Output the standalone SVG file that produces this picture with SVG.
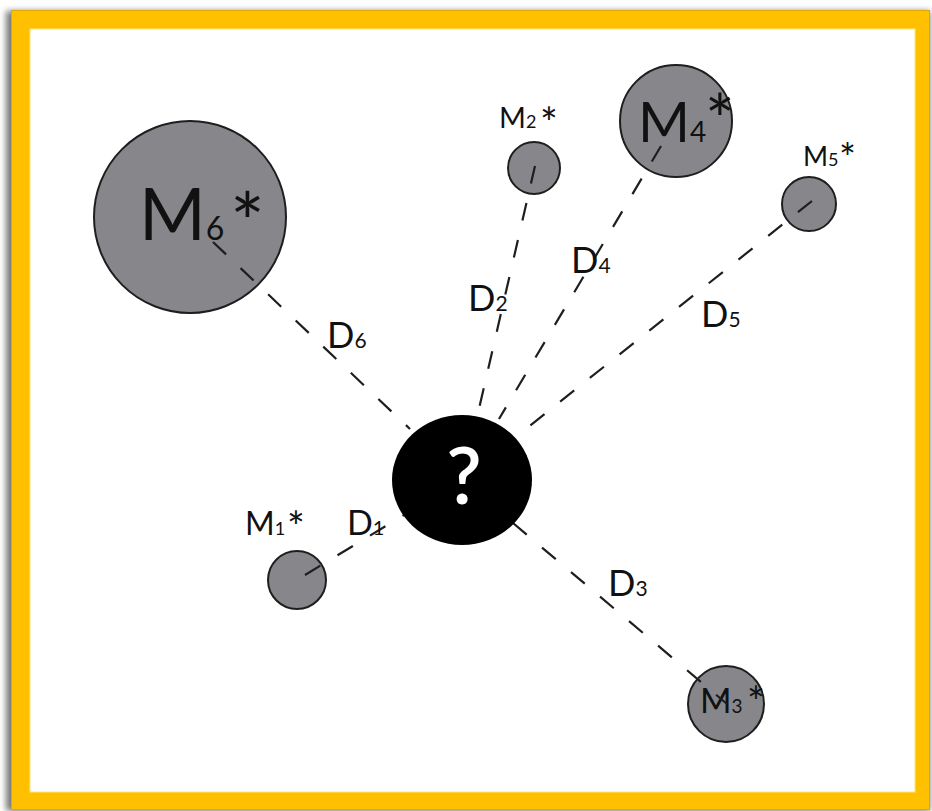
<svg xmlns="http://www.w3.org/2000/svg" width="932" height="811" viewBox="0 0 932 811">
<defs>
<filter id="sh" x="-5%" y="-5%" width="110%" height="110%"><feGaussianBlur stdDeviation="3"/></filter>
<style>
.sat{fill:#87878b;stroke:#1e1e1e;stroke-width:2}
.lbl{font-family:Lato,"Open Sans","Liberation Sans",sans-serif;fill:#111}
.con{stroke:#1e1e1e;stroke-width:2.2;stroke-dasharray:18 20;fill:none}
</style>
</defs>
<rect x="6" y="11" width="924" height="800" fill="#777" filter="url(#sh)"/>
<rect x="11" y="10" width="919" height="800" fill="#FFC000"/>
<rect x="11.5" y="10.5" width="918" height="799" fill="none" stroke="#e0a800" stroke-width="1"/>
<rect x="30" y="29" width="885" height="763" fill="#fff" stroke="#ffe680" stroke-width="1"/>

<g id="M6"><circle class="sat" cx="190" cy="217" r="96"/>
<text class="lbl" x="139" y="240"><tspan font-size="72">M</tspan><tspan font-size="32">6</tspan><tspan font-size="82" x="230" y="252">*</tspan></text></g>
<g id="M2"><circle class="sat" cx="534" cy="168" r="26"/>
<text class="lbl" x="499" y="128"><tspan font-size="29">M</tspan><tspan font-size="18">2</tspan><tspan font-size="42" x="540" y="138">*</tspan></text></g>
<g id="M4"><circle class="sat" cx="676" cy="121" r="56"/>
<text class="lbl" x="638" y="142"><tspan font-size="56">M</tspan><tspan font-size="28">4</tspan><tspan font-size="70" x="705" y="145">*</tspan></text></g>
<g id="M5"><circle class="sat" cx="809" cy="204" r="27"/>
<text class="lbl" x="803" y="166"><tspan font-size="27">M</tspan><tspan font-size="18">5</tspan><tspan font-size="40" x="839" y="173">*</tspan></text></g>
<g id="M1"><circle class="sat" cx="297" cy="580" r="29"/>
<text class="lbl" x="245" y="535"><tspan font-size="32">M</tspan><tspan font-size="18">1</tspan><tspan font-size="42" x="287" y="542">*</tspan></text></g>
<g id="M3"><circle class="sat" cx="726" cy="704" r="38"/>
<text class="lbl" x="700" y="713"><tspan font-size="34">M</tspan><tspan font-size="19">3</tspan><tspan font-size="42" x="747" y="717">*</tspan></text></g>

<g id="connectors">
<line class="con" x1="213" y1="242" x2="410" y2="429"/>
<line class="con" x1="535" y1="166" x2="478" y2="413"/>
<line class="con" x1="661" y1="146" x2="499" y2="419"/>
<line class="con" x1="812" y1="201" x2="517" y2="436"/>
<line class="con" x1="305" y1="575" x2="404" y2="515"/>
<line class="con" x1="513" y1="523" x2="727" y2="704"/>
</g>

<g id="labels" class="lbl">
<text x="327" y="348"><tspan font-size="36">D</tspan><tspan font-size="21">6</tspan></text>
<text x="468" y="311"><tspan font-size="36">D</tspan><tspan font-size="21">2</tspan></text>
<text x="571" y="273"><tspan font-size="36">D</tspan><tspan font-size="21">4</tspan></text>
<text x="701" y="327"><tspan font-size="36">D</tspan><tspan font-size="21">5</tspan></text>
<text x="347" y="535"><tspan font-size="34">D</tspan><tspan font-size="20">1</tspan></text>
<text x="608" y="596"><tspan font-size="36">D</tspan><tspan font-size="21">3</tspan></text>
</g>

<g id="unknown"><ellipse cx="462" cy="480" rx="70" ry="65" fill="#000"/>
<text x="464" y="504" font-family="Lato,'Open Sans','Liberation Sans',sans-serif" font-size="78" font-weight="600" fill="#fff" text-anchor="middle">?</text></g>
</svg>
